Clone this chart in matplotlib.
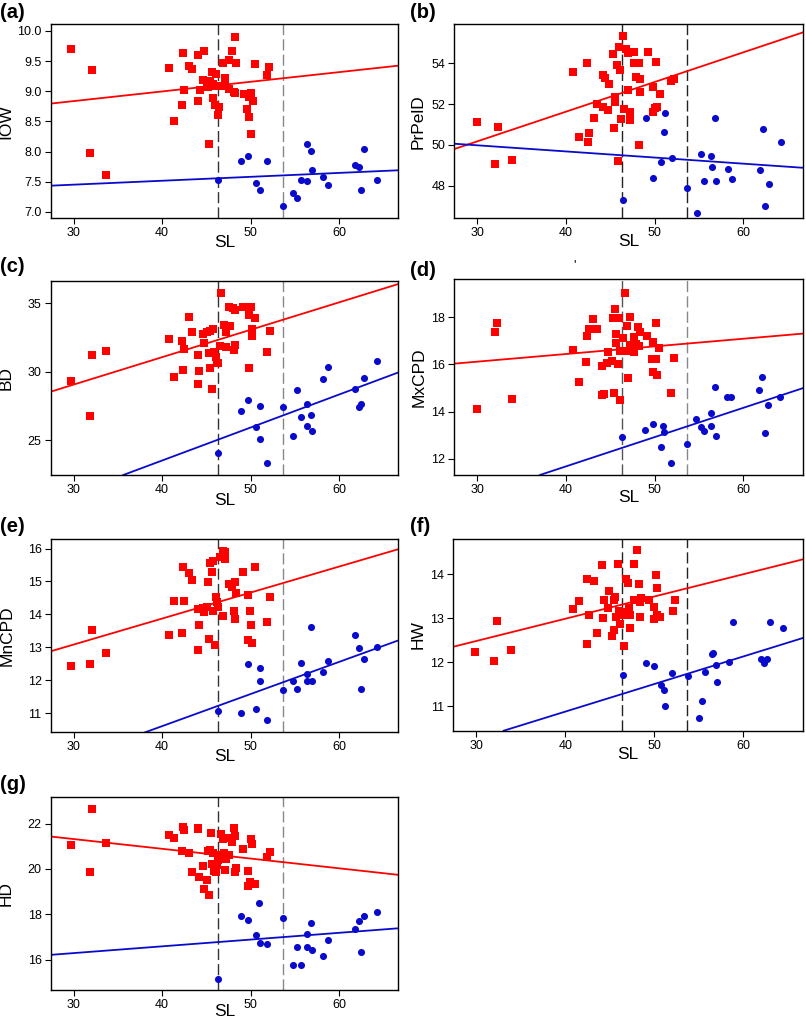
import matplotlib
matplotlib.use("Agg")
import matplotlib.pyplot as plt
import numpy as np

plt.rcParams['font.family'] = ['Liberation Sans', 'DejaVu Sans']

# ---------------- data ----------------
cut_points = [46.35, 53.65]
x_ticks = [30, 40, 50, 60]
x_limits = (27.4, 66.7)

# (a) IOW
a_red_x = [29.74, 32.11, 31.81, 33.70, 40.75, 41.32, 42.23, 42.34, 42.42, 43.06, 43.43, 44.0, 44.04, 44.23, 44.72,
           44.57, 45.09, 45.17, 45.28, 45.62, 46.08, 45.4, 45.7, 45.96, 45.77, 45.96, 46.30, 46.45, 46.6, 46.87,
           47.13, 47.13, 47.58, 47.58, 47.92, 48.11, 48.26, 48.30, 48.19, 49.21, 49.62, 49.81, 50.08, 49.85, 50.23,
           50.08, 50.49, 51.81, 52.11]
a_red_y = [9.696, 9.354, 7.983, 7.613, 9.381, 8.514, 8.773, 9.630, 9.017, 9.420, 9.370, 9.602, 8.845, 9.022, 9.674,
           9.188, 9.133, 9.066, 8.127, 9.326, 9.287, 9.17, 9.12, 9.09, 8.884, 8.773, 8.608, 8.746, 9.088, 9.464,
           9.215, 9.16, 9.033, 9.519, 9.669, 8.994, 9.906, 9.475, 8.967, 8.950, 8.707, 8.580, 8.978, 8.912, 8.845,
           8.287, 9.459, 9.271, 9.398]
a_blue_x = [46.30, 48.87, 49.74, 50.64, 51.02, 51.85, 53.66, 54.83, 55.25, 55.66, 56.42, 56.34, 56.83, 56.94, 58.23,
            58.72, 61.85, 62.23, 62.49, 62.87, 64.26]
a_blue_y = [7.525, 7.840, 7.928, 7.486, 7.359, 7.845, 7.094, 7.320, 7.227, 7.536, 8.122, 7.514, 8.006, 7.696, 7.575,
            7.448, 7.773, 7.751, 7.359, 8.039, 7.525]

# (b) PrPelD
b_red_x = [29.92, 32.29, 31.99, 33.86, 40.84, 41.47, 42.37, 42.56, 42.45, 43.12, 43.50, 44.14, 44.36, 44.14, 44.70,
           44.85, 45.26, 45.41, 45.49, 45.56, 45.75, 45.94, 46.12, 45.90, 46.16, 46.39, 46.50, 46.76, 46.99, 46.95,
           47.21, 47.21, 47.62, 47.70, 47.92, 48.22, 48.37, 48.37, 48.19, 49.24, 49.76, 49.87, 50.06, 50.25, 50.14,
           50.55, 51.90, 52.20]
b_red_y = [51.14, 50.86, 49.06, 49.24, 53.59, 50.37, 54.0, 50.57, 50.14, 51.34, 51.99, 53.43, 53.30, 51.87, 51.71,
           52.99, 54.46, 50.84, 52.37, 52.12, 53.92, 54.82, 53.67, 49.21, 51.25, 55.36, 51.74, 54.69, 54.49, 52.69,
           51.63, 51.22, 54.57, 54.03, 53.31, 54.03, 53.23, 52.58, 49.99, 54.57, 52.86, 51.63, 51.79, 51.84, 54.08,
           52.48, 53.15, 53.22]
b_blue_x = [46.39, 48.97, 49.84, 50.70, 51.04, 51.15, 51.94, 53.70, 54.82, 55.27, 55.61, 56.36, 56.47, 56.85, 56.96,
            58.23, 58.72, 61.83, 62.17, 62.47, 62.85, 64.27]
b_blue_y = [47.30, 51.30, 48.39, 49.16, 50.62, 51.55, 49.34, 47.90, 46.64, 49.54, 48.23, 49.46, 48.90, 51.34, 48.21,
            48.82, 48.33, 48.77, 50.80, 47.02, 48.10, 50.13]

# (c) BD
c_red_x = [29.70, 32.11, 31.81, 33.70, 40.75, 41.32, 42.23, 42.42, 42.34, 43.06, 43.43, 44.0, 44.19, 44.04, 44.64,
           44.72, 45.09, 45.40, 45.32, 45.40, 45.62, 45.77, 45.85, 46.08, 46.15, 46.30, 46.49, 46.60, 46.98, 47.17,
           47.21, 47.58, 47.66, 48.04, 48.19, 48.15, 48.26, 49.17, 49.77, 49.85, 50.00, 50.11, 50.19, 50.53, 51.85,
           52.15]
c_red_y = [29.31, 31.23, 26.75, 31.52, 32.37, 29.60, 32.25, 31.67, 30.11, 33.98, 32.88, 31.23, 30.06, 29.09, 32.76,
           32.08, 32.88, 32.98, 31.35, 30.26, 28.72, 33.13, 31.47, 31.11, 30.62, 30.62, 31.89, 35.78, 33.42, 31.84,
           32.88, 34.71, 33.37, 34.64, 31.96, 31.59, 34.51, 34.71, 30.30, 34.15, 34.76, 33.13, 32.64, 33.95, 31.47,
           32.98]
c_blue_x = [46.30, 48.87, 49.74, 50.64, 51.02, 51.09, 51.85, 53.66, 54.83, 55.25, 55.66, 56.34, 56.42, 56.83, 56.94,
            58.23, 58.72, 61.85, 62.23, 62.49, 62.87, 64.26]
c_blue_y = [24.08, 27.17, 27.94, 25.95, 27.53, 25.12, 23.35, 27.41, 25.32, 28.67, 26.70, 27.68, 26.03, 26.85, 25.68,
            29.50, 30.38, 28.77, 27.41, 27.65, 29.57, 30.79]

# (d) MxCPD
d_red_x = [29.92, 31.95, 32.25, 33.86, 40.80, 41.44, 42.26, 42.41, 42.56, 43.09, 43.50, 44.02, 44.29, 44.10, 44.62,
           44.74, 45.22, 45.37, 45.26, 45.49, 45.67, 45.67, 45.82, 45.94, 46.05, 46.12, 46.39, 46.69, 46.80, 46.91,
           46.95, 47.17, 47.17, 47.36, 47.62, 47.70, 47.88, 48.07, 48.22, 48.30, 49.12, 49.69, 49.80, 49.87, 50.10,
           50.14, 50.21, 50.47, 51.90, 52.16]
d_red_y = [14.13, 17.37, 17.77, 14.54, 16.59, 15.27, 16.11, 17.20, 17.49, 17.93, 17.49, 14.70, 14.76, 15.92, 16.07,
           16.54, 16.14, 14.80, 17.94, 18.35, 17.28, 16.89, 16.01, 17.94, 14.48, 16.58, 17.10, 19.03, 16.58, 17.63,
           15.44, 18.01, 16.82, 16.58, 16.51, 17.17, 16.85, 17.59, 16.77, 17.38, 17.21, 16.23, 15.66, 16.93, 16.23,
           17.77, 15.55, 16.68, 14.77, 16.28]
d_blue_x = [46.35, 48.94, 49.80, 50.66, 50.96, 51.07, 51.86, 53.62, 54.71, 55.24, 55.61, 56.32, 56.40, 56.77, 56.92,
            58.12, 58.65, 61.80, 62.13, 62.40, 62.81, 64.16]
d_blue_y = [12.92, 13.23, 13.48, 12.51, 13.41, 13.14, 11.83, 12.65, 13.70, 13.37, 13.18, 13.96, 13.41, 15.03, 12.99,
            14.62, 14.62, 14.93, 15.48, 13.08, 14.28, 14.63]

# (e) MnCPD
e_red_x = [29.70, 32.11, 31.81, 33.70, 40.75, 41.32, 42.23, 42.34, 42.42, 43.06, 43.43, 44.0, 44.19, 44.04, 44.57,
           44.72, 45.02, 45.17, 45.32, 45.40, 45.62, 45.70, 45.77, 45.96, 46.08, 46.15, 46.34, 46.53, 46.83, 46.91,
           47.09, 47.13, 47.58, 47.92, 48.26, 48.15, 48.19, 48.30, 49.17, 49.66, 49.74, 49.89, 50.08, 50.19, 50.49,
           51.85, 52.15]
e_red_y = [12.42, 13.52, 12.50, 12.83, 13.38, 14.40, 13.45, 15.43, 14.40, 15.25, 15.04, 14.15, 13.69, 12.93, 14.18,
           14.07, 14.22, 14.97, 13.26, 15.55, 15.30, 14.09, 15.63, 13.07, 14.54, 14.39, 14.24, 15.74, 13.94, 15.94,
           15.68, 15.91, 14.93, 14.83, 14.97, 14.09, 13.85, 14.66, 15.28, 14.58, 13.23, 14.11, 13.68, 13.13, 15.43,
           13.76, 14.52]
e_blue_x = [46.30, 48.87, 49.74, 50.64, 51.02, 51.09, 51.85, 53.66, 54.83, 55.25, 55.66, 56.34, 56.34, 56.83, 56.94,
            58.15, 58.72, 61.85, 62.23, 62.49, 62.87, 64.26]
e_blue_y = [11.06, 11.00, 12.48, 11.14, 12.38, 11.98, 10.78, 11.70, 11.98, 11.73, 12.52, 12.19, 11.98, 13.63, 11.99,
            12.24, 12.58, 13.38, 12.98, 11.75, 12.66, 13.00]

# (f) HW
f_red_x = [29.89, 31.98, 32.28, 33.85, 40.85, 41.48, 42.42, 42.46, 42.61, 43.17, 43.58, 44.14, 44.22, 44.33, 44.74,
           44.89, 45.23, 45.41, 45.41, 45.60, 45.71, 45.86, 45.97, 46.16, 46.27, 46.46, 46.54, 46.76, 47.06, 47.10,
           47.25, 47.29, 47.66, 47.70, 48.00, 48.22, 48.33, 48.44, 48.41, 49.34, 49.94, 49.98, 50.20, 50.31, 50.28,
           50.58, 52.04, 52.30]
f_red_y = [12.23, 12.02, 12.93, 12.27, 13.20, 13.39, 12.42, 13.89, 13.07, 13.84, 12.67, 14.20, 13.01, 13.42, 13.22,
           13.62, 12.59, 12.74, 13.41, 13.48, 13.03, 14.23, 13.16, 12.86, 13.14, 13.07, 12.37, 13.88, 13.80, 13.24,
           12.77, 13.08, 14.24, 13.42, 14.55, 13.77, 13.36, 13.46, 13.03, 13.41, 13.26, 12.97, 13.99, 13.69, 13.07,
           13.03, 13.16, 13.42]
f_blue_x = [46.46, 49.04, 49.90, 50.76, 51.10, 51.21, 51.99, 53.79, 54.99, 55.40, 55.74, 56.49, 56.60, 56.97, 57.05,
            58.36, 58.84, 61.95, 62.32, 62.62, 63.00, 64.42]
f_blue_y = [11.70, 11.98, 11.92, 11.49, 11.36, 11.01, 11.75, 11.69, 10.72, 11.12, 11.77, 12.18, 12.20, 11.93, 11.55,
            12.01, 12.92, 12.06, 11.97, 12.07, 12.92, 12.77]

# (g) HD
g_red_x = [29.70, 32.11, 31.81, 33.70, 40.75, 41.32, 42.23, 42.34, 42.42, 43.06, 43.43, 44.0, 44.04, 44.19, 44.64,
           44.72, 45.09, 45.24, 45.32, 45.40, 45.58, 45.62, 45.77, 45.89, 46.08, 46.15, 46.34, 46.45, 46.60, 46.83,
           46.98, 47.09, 47.21, 47.47, 47.58, 47.92, 48.15, 48.26, 48.19, 48.30, 49.17, 49.74, 49.66, 49.89, 50.08,
           50.19, 50.53, 51.85, 52.15]
g_red_y = [21.04, 22.65, 19.88, 21.13, 21.50, 21.38, 20.79, 21.87, 21.71, 20.72, 19.88, 21.82, 21.75, 19.65, 20.15,
           19.12, 19.50, 20.79, 18.84, 20.84, 21.57, 20.21, 20.69, 19.91, 19.88, 20.18, 20.40, 20.62, 21.53, 21.32,
           20.69, 19.96, 20.44, 21.38, 20.62, 21.18, 21.82, 21.47, 19.85, 20.03, 20.88, 19.91, 19.26, 19.44, 21.32,
           21.12, 19.32, 20.54, 20.76]
g_blue_x = [46.30, 48.87, 49.74, 50.64, 50.98, 51.09, 51.85, 53.66, 54.83, 55.25, 55.66, 56.34, 56.42, 56.83, 56.94,
            58.23, 58.72, 61.85, 62.23, 62.49, 62.87, 64.26]
g_blue_y = [15.13, 17.94, 17.74, 17.07, 18.50, 16.75, 16.71, 17.85, 15.76, 16.57, 15.76, 17.12, 16.57, 17.60, 16.43,
            16.16, 16.88, 17.37, 17.71, 16.34, 17.93, 18.12]

# fitted regression lines: (intercept, slope) per panel
red_fits = {'a': (8.358, 0.0160), 'b': (45.81, 0.1455), 'c': (23.07, 0.200), 'd': (15.145, 0.0323),
            'e': (10.718, 0.0789), 'f': (10.963, 0.0506), 'g': (22.608, -0.0430)}
blue_fits = {'a': (7.258, 0.00649), 'b': (50.88, -0.0300), 'c': (13.90, 0.2407), 'd': (6.733, 0.1238),
             'e': (6.707, 0.0975), 'f': (8.367, 0.0627), 'g': (15.394, 0.0298)}

y_labels = {'a': 'IOW', 'b': 'PrPelD', 'c': 'BD', 'd': 'MxCPD', 'e': 'MnCPD', 'f': 'HW', 'g': 'HD'}
y_limits = {'a': (6.895, 10.116), 'b': (46.40, 55.93), 'c': (22.47, 36.63), 'd': (11.32, 19.61),
            'e': (10.42, 16.29), 'f': (10.44, 14.80), 'g': (14.66, 23.16)}
y_ticks = {'a': [7.0, 7.5, 8.0, 8.5, 9.0, 9.5, 10.0], 'b': [48, 50, 52, 54], 'c': [25, 30, 35],
           'd': [12, 14, 16, 18], 'e': [11, 12, 13, 14, 15, 16], 'f': [11, 12, 13, 14], 'g': [16, 18, 20, 22]}

panels = {
    'a': (a_red_x, a_red_y, a_blue_x, a_blue_y),
    'b': (b_red_x, b_red_y, b_blue_x, b_blue_y),
    'c': (c_red_x, c_red_y, c_blue_x, c_blue_y),
    'd': (d_red_x, d_red_y, d_blue_x, d_blue_y),
    'e': (e_red_x, e_red_y, e_blue_x, e_blue_y),
    'f': (f_red_x, f_red_y, f_blue_x, f_blue_y),
    'g': (g_red_x, g_red_y, g_blue_x, g_blue_y),
}

# ---------------- layout (pixels in a 806x1018 canvas) ----------------
W, H = 806, 1018
boxes = {  # left, top, right, bottom
    'a': (50.7, 24, 398.3, 218.3),
    'b': (454.3, 24, 802.7, 218.3),
    'c': (50.7, 281, 398.3, 475),
    'd': (454.3, 279, 802.7, 475),
    'e': (50.7, 539, 398.3, 732.3),
    'f': (453.3, 539, 803.0, 730.7),
    'g': (50.7, 797.3, 398.3, 990),
}
ylab_x = {'a': -0.128, 'b': -0.103, 'c': -0.127, 'd': -0.102, 'e': -0.125, 'f': -0.100, 'g': -0.127}
xlab_y = {'a': -0.127, 'b': -0.117, 'c': -0.129, 'd': -0.113, 'e': -0.126, 'f': -0.125, 'g': -0.114}
label_pos = {'a': (0, 12.5), 'b': (410, 12.5), 'c': (0, 267), 'd': (410, 271),
             'e': (0, 527), 'f': (410, 527), 'g': (0, 785)}
vline_colors = {'a': ('#333333', '#888888'), 'b': ('#222222', '#222222'), 'c': ('#333333', '#888888'),
                'd': ('#555555', '#888888'), 'e': ('#333333', '#888888'), 'f': ('#222222', '#222222'),
                'g': ('#333333', '#888888')}

RED = '#ff0000'
BLUE = '#0a0acd'

fig = plt.figure(figsize=(W / 100, H / 100), dpi=100)

for key, (rx, ry, bx, by) in panels.items():
    l, t, r, b = boxes[key]
    ax = fig.add_axes([l / W, 1 - b / H, (r - l) / W, (b - t) / H])
    ax.set_xlim(*x_limits)
    ax.set_ylim(*y_limits[key])
    c1, c2 = vline_colors[key]
    ax.axvline(cut_points[0], color=c1, lw=1.0, ls=(0, (8, 3)), zorder=1)
    ax.axvline(cut_points[1], color=c2, lw=1.0, ls=(0, (8, 3)), zorder=1)
    ri, rs = red_fits[key]
    bi, bs = blue_fits[key]
    ax.axline((0, ri), slope=rs, color=RED, lw=1.3, zorder=2)
    ax.axline((0, bi), slope=bs, color=BLUE, lw=1.3, zorder=2)
    ax.scatter(rx, ry, marker='s', s=30, color=RED, linewidths=0, zorder=3)
    ax.scatter(bx, by, marker='o', s=26, color=BLUE, linewidths=0, zorder=3)
    ax.set_xticks(x_ticks)
    ax.set_yticks(y_ticks[key])
    if key == 'a':
        ax.set_yticklabels([f'{v:.1f}' for v in y_ticks[key]])
    ax.tick_params(direction='out', length=4, width=0.8, labelsize=9, pad=2.5, colors='black')
    for sp in ax.spines.values():
        sp.set_linewidth(1.0)
        sp.set_color('black')
    ax.set_xlabel('SL', fontsize=12.5, va='center')
    ax.xaxis.set_label_coords(0.5, xlab_y[key])
    ax.set_ylabel(y_labels[key], fontsize=12.5, va='center')
    ax.yaxis.set_label_coords(ylab_x[key], 0.5)
    px, py = label_pos[key]
    fig.text(px / W, 1 - py / H, f'({key})', fontsize=14.5, fontweight='bold', ha='left', va='center')

# small stray mark above panel (d)
fig.text(575 / W, 1 - 265 / H, "'", fontsize=9, ha='center', va='center')

fig.savefig('out.png', dpi=100)
